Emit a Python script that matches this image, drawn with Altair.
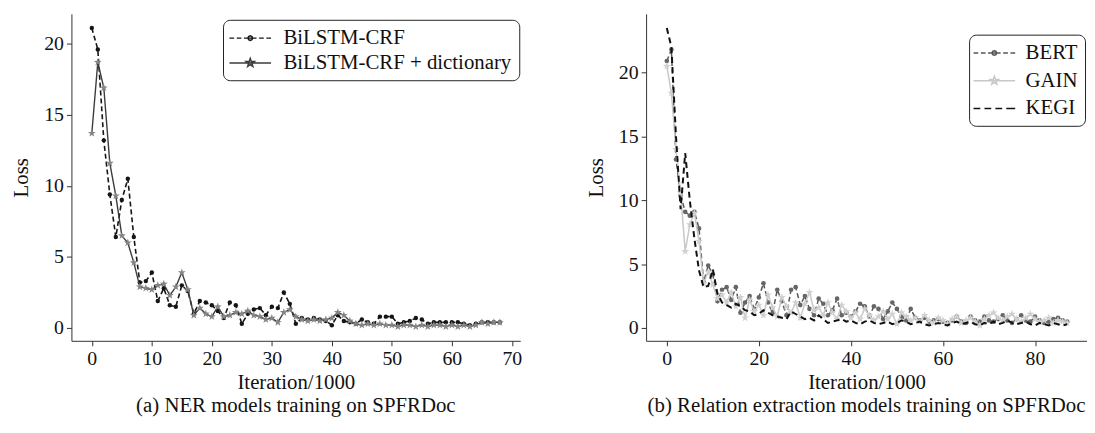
import altair as alt
import pandas as pd

# ---------------- data: left panel (NER) ----------------
ner_x = list(range(69))
bilstm = [21.1, 19.6, 13.2, 9.4, 6.4, 9.0, 10.5, 6.4, 3.2, 3.3,
          3.9, 1.9, 2.8, 1.6, 1.5, 3.0, 2.6, 1.0, 1.9, 1.8,
          1.6, 1.2, 0.7, 1.8, 1.6, 0.3, 1.0, 1.3, 1.4, 0.9,
          1.5, 1.4, 2.5, 1.7, 0.3, 0.7, 0.6, 0.7, 0.6, 0.5,
          0.2, 0.9, 0.5, 0.4, 0.3, 0.6, 0.4, 0.3, 0.8, 0.8,
          0.8, 0.3, 0.4, 0.5, 0.7, 0.6, 0.3, 0.4, 0.4, 0.4,
          0.4, 0.4, 0.3, 0.2, 0.3, 0.4, 0.4, 0.4, 0.4]
bilstm_dict = [13.7, 18.7, 16.9, 11.6, 9.3, 6.5, 6.0, 4.6, 2.9, 2.8,
               2.7, 3.0, 3.1, 2.3, 2.9, 3.9, 2.7, 0.9, 1.4, 1.0,
               0.8, 1.5, 0.8, 0.9, 1.1, 1.0, 1.2, 0.9, 0.8, 0.6,
               0.7, 0.4, 1.1, 1.3, 0.8, 0.6, 0.5, 0.6, 0.5, 0.6,
               0.7, 1.1, 0.9, 0.5, 0.3, 0.2, 0.3, 0.2, 0.3, 0.2,
               0.2, 0.1, 0.2, 0.2, 0.1, 0.2, 0.1, 0.2, 0.2, 0.1,
               0.2, 0.1, 0.2, 0.1, 0.2, 0.4, 0.3, 0.4, 0.4]
ner_names = ["BiLSTM-CRF", "BiLSTM-CRF + dictionary"]

# ---------------- data: right panel (relation extraction) ----------------
re_x = list(range(88))
bert = [20.9, 21.8, 13.2, 10.4, 9.1, 8.8, 9.1, 7.8, 3.6, 4.9,
        4.2, 2.1, 3.0, 3.2, 2.2, 3.2, 1.2, 2.0, 2.5, 1.5,
        2.4, 3.5, 2.0, 1.2, 3.0, 2.1, 1.0, 3.0, 3.2, 1.8,
        2.5, 1.5, 1.0, 2.3, 1.9, 1.0, 1.4, 2.3, 1.0, 1.2,
        0.9, 1.3, 1.9, 1.7, 0.9, 1.7, 1.5, 0.7, 1.3, 2.0,
        1.5, 0.9, 0.6, 1.5, 0.8, 0.6, 0.8, 0.5, 0.6, 0.7,
        0.5, 0.4, 0.6, 0.9, 0.5, 0.4, 0.9, 0.6, 0.5, 0.9,
        0.6, 0.5, 0.7, 1.0, 0.6, 0.4, 0.7, 1.0, 0.6, 0.5,
        0.9, 0.6, 0.4, 0.5, 0.7, 0.8, 0.6, 0.5]
gain = [20.5, 18.4, 14.0, 10.6, 6.0, 8.1, 9.0, 6.8, 3.5, 4.4,
        3.4, 2.3, 2.6, 2.0, 2.8, 1.7, 2.4, 0.8, 2.2, 1.3,
        1.8, 1.0, 2.6, 1.6, 0.9, 2.4, 1.7, 1.2, 2.0, 0.8,
        1.9, 2.8, 1.4, 1.6, 1.0, 2.0, 1.2, 0.7, 1.8, 1.3,
        0.8, 1.2, 0.7, 1.5, 1.0, 0.6, 0.9, 1.3, 0.7, 1.1,
        0.3, 1.2, 0.9, 0.6, 0.8, 0.5, 1.0, 0.6, 0.4, 0.8,
        0.6, 0.3, 0.7, 0.9, 0.4, 0.6, 0.8, 0.5, 0.2, 0.7,
        1.0, 1.2, 0.8, 0.6, 0.9, 1.1, 0.7, 0.5, 0.8, 1.1,
        0.7, 0.5, 0.6, 0.8, 0.4, 0.6, 0.5, 0.4]
kegi = [23.5, 22.0, 15.0, 9.3, 13.7, 10.0, 7.0, 4.5, 3.2, 3.3,
        4.6, 2.7, 2.0, 1.8, 1.6, 1.9, 1.7, 1.4, 1.3, 1.0,
        1.1, 1.4, 1.2, 1.0, 0.9, 0.8, 0.7, 1.3, 1.1, 0.9,
        0.7, 0.8, 0.6, 1.0, 0.7, 0.4, 0.5, 0.6, 0.7, 0.5,
        0.6, 0.4, 0.3, 0.5, 0.6, 0.4, 0.3, 0.4, 0.5, 0.3,
        0.4, 0.6, 0.5, 0.3, 0.4, 0.5, 0.3, 0.2, 0.3, 0.4,
        0.3, 0.2, 0.4, 0.5, 0.3, 0.4, 0.5, 0.3, 0.2, 0.4,
        0.3, 0.5, 0.3, 0.4, 0.6, 0.4, 0.3, 0.4, 0.5, 0.3,
        0.2, 0.4, 0.3, 0.2, 0.4, 0.3, 0.2, 0.3]
re_names = ["BERT", "GAIN", "KEGI"]

# ---------------- text ----------------
x_title = "Iteration/1000"
y_title = "Loss"
cap_a = "(a) NER models training on SPFRDoc"
cap_b = "(b) Relation extraction models training on SPFRDoc"

FONT = "Liberation Serif"

# marker / legend glyph shapes (SVG paths in symbol units)
STAR = ("M0,-1L0.235,-0.324L0.951,-0.309L0.38,0.124L0.588,0.809L0,0.4"
        "L-0.588,0.809L-0.38,0.124L-0.951,-0.309L-0.235,-0.324Z")
G_CIRCLE = "M0.22,0L0.156,0.156L0,0.22L-0.156,0.156L-0.22,0L-0.156,-0.156L0,-0.22L0.156,-0.156Z"
G_STAR = ("M0,-0.42L0.099,-0.136L0.4,-0.13L0.16,0.052L0.247,0.34L0,0.168"
          "L-0.247,0.34L-0.16,0.052L-0.4,-0.13L-0.099,-0.136Z")
G_DASH_DOT = "M-2,0L-1.55,0M-1.3,0L-0.85,0M-0.6,0L0.6,0M0.85,0L1.3,0M1.55,0L2,0" + G_CIRCLE
G_SOLID_STAR = "M-2,0L2,0" + G_STAR
G_DASH4 = "M-2,0L-1.35,0M-0.95,0L-0.3,0M0.1,0L0.75,0M1.15,0L2,0"


def long_table(xs, names, series_lists):
    rows = []
    for name, vals in zip(names, series_lists):
        for xv, yv in zip(xs, vals):
            rows.append({"iteration": float(xv), "loss": float(yv), "model": name})
    return pd.DataFrame(rows)


ner_df = long_table(ner_x, ner_names, [bilstm, bilstm_dict])
re_df = long_table(re_x, re_names, [bert, gain, kegi])


def panel(df, names, line_colors, marker_colors, dashes, widths, shapes, sizes,
          glyphs, xdom, xticks, ydom, width, height, caption, lx, ly,
          sym_off, lab_off, row_pad):
    xenc = alt.X("iteration:Q", scale=alt.Scale(domain=xdom, nice=False, zero=False),
                 axis=alt.Axis(values=xticks, title=x_title))
    yenc = alt.Y("loss:Q", scale=alt.Scale(domain=ydom, nice=False, zero=False),
                 axis=alt.Axis(values=[0, 5, 10, 15, 20], title=y_title))
    layers = []
    for i, name in enumerate(names):
        sub = alt.Chart(df).transform_filter(
            alt.FieldEqualPredicate(field="model", equal=name))
        if dashes[i] is not None:
            lm = sub.mark_line(color=line_colors[i], strokeWidth=widths[i],
                               strokeDash=dashes[i])
        else:
            lm = sub.mark_line(color=line_colors[i], strokeWidth=widths[i])
        layers.append(lm.encode(x=xenc, y=yenc))
        if shapes[i] is not None:
            layers.append(sub.mark_point(
                shape=shapes[i], filled=True, size=sizes[i],
                color=marker_colors[i], opacity=1).encode(x=xenc, y=yenc))
    leg_df = pd.DataFrame({"model": names})
    legend_layer = alt.Chart(leg_df).mark_point(filled=True, opacity=0).encode(
        fill=alt.Fill("model:N", scale=alt.Scale(domain=names, range=marker_colors),
                      legend=alt.Legend(
                          title=None, orient="none", legendX=lx, legendY=ly,
                          symbolSize=441, symbolStrokeWidth=1.5, symbolOpacity=1,
                          symbolOffset=sym_off, labelOffset=lab_off, labelLimit=400,
                          labelFont=FONT, labelFontSize=21, labelColor="#111",
                          strokeColor="#222", cornerRadius=7, padding=7,
                          fillColor="white", rowPadding=row_pad)),
        stroke=alt.Stroke("model:N", scale=alt.Scale(domain=names, range=line_colors)),
        shape=alt.Shape("model:N", scale=alt.Scale(domain=names, range=glyphs)),
    )
    layers.append(legend_layer)
    return alt.layer(*layers).properties(
        width=width, height=height,
        title=alt.TitleParams(caption, orient="bottom", font=FONT, fontSize=21,
                              fontWeight="normal", color="#111", offset=3),
    )


left = panel(
    ner_df, ner_names,
    line_colors=["#151515", "#3c3c3c"], marker_colors=["#151515", "#858585"],
    dashes=[[5, 3], None], widths=[1.6, 1.4],
    shapes=["circle", STAR], sizes=[20, 70],
    glyphs=[G_DASH_DOT, G_SOLID_STAR],
    xdom=[-3.4, 71.4], xticks=[0, 10, 20, 30, 40, 50, 60, 70],
    ydom=[-0.9, 22.1], width=453, height=330, caption=cap_a,
    lx=153, ly=6, sym_off=9, lab_off=22, row_pad=3,
)
right = panel(
    re_df, re_names,
    line_colors=["#555555", "#c8c8c8", "#111111"],
    marker_colors=["#666666", "#d0d0d0", "#111111"],
    dashes=[[5, 3], None, [6, 4]], widths=[1.5, 1.5, 2.0],
    shapes=["circle", STAR, None], sizes=[22, 70, 0],
    glyphs=[G_DASH_DOT, G_SOLID_STAR, G_DASH4],
    xdom=[-4.5, 91.3], xticks=[0, 20, 40, 60, 80],
    ydom=[-1.0, 24.6], width=445, height=330, caption=cap_b,
    lx=326, ly=21, sym_off=7, lab_off=20, row_pad=6,
)

chart = alt.hconcat(left, right, spacing=64).resolve_scale(
    fill="independent", stroke="independent", shape="independent"
).resolve_legend(
    fill="independent", stroke="independent", shape="independent"
).configure(
    padding={"left": 3, "top": 4, "right": 0, "bottom": 0},
).configure_view(strokeWidth=0).configure_axis(
    labelFont=FONT, labelFontSize=20, labelColor="#111",
    titleFont=FONT, titleFontSize=21, titleFontWeight="normal", titleColor="#111",
    domainColor="#333", tickColor="#333", tickSize=5, grid=False,
    labelPadding=3,
).configure_axisX(titlePadding=3).configure_axisY(titlePadding=12)

chart.save("out.html", embed_options={"renderer": "svg", "actions": False})
